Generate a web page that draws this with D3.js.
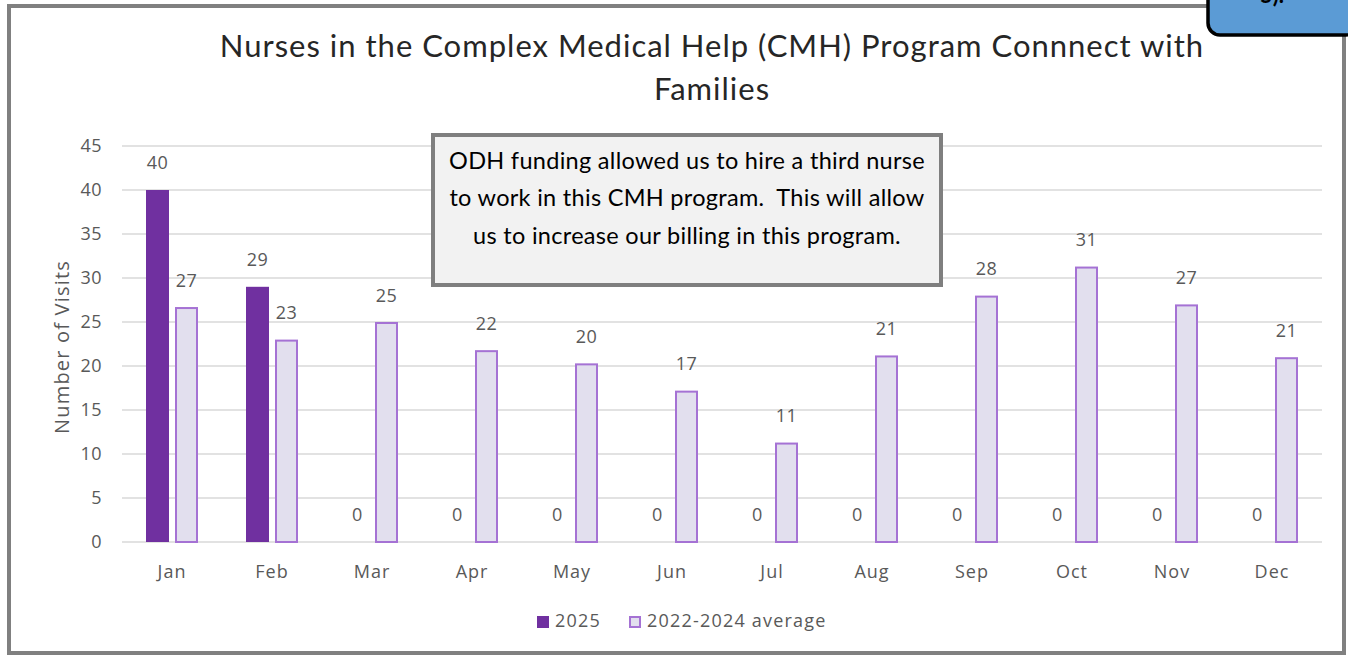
<!DOCTYPE html>
<html>
<head>
<meta charset="utf-8">
<script src="https://cdn.jsdelivr.net/npm/d3@7"></script>
<style>
  body { margin: 0; background: #fff; }
  svg { display: block; }
  text { white-space: pre; }
</style>
</head>
<body>
<svg id="chart" width="1348" height="656"></svg>
<script>
const months = ["Jan", "Feb", "Mar", "Apr", "May", "Jun", "Jul", "Aug", "Sep", "Oct", "Nov", "Dec"]
const visits2025 = [40, 29, 0, 0, 0, 0, 0, 0, 0, 0, 0, 0]
const visitsAvg = [26.7, 23, 25, 21.8, 20.3, 17.2, 11.3, 21.2, 28, 31.3, 27, 21]
const yTicks = [0, 5, 10, 15, 20, 25, 30, 35, 40, 45]
const seriesNames = ["2025", "2022-2024 average"]
const titleLines = ["Nurses in the Complex Medical Help (CMH) Program Connnect with", "Families"]
const noteLines = ["ODH funding allowed us to hire a third nurse", "to work in this CMH program.  This will allow", "us to increase our billing in this program."]

const svg = d3.select("#chart")
const axisFont = "'Open Sans', 'Noto Sans', sans-serif"
const titleFont = "Lato, 'Open Sans', sans-serif"
const grey = "#595959"

// outer frame
svg.append("rect")
    .attr("x", 9).attr("y", 6).attr("width", 1335).attr("height", 647)
    .attr("fill", "#fff").attr("stroke", "#808080").attr("stroke-width", 4)

const plot = {left: 122, right: 1322, top: 146, bottom: 542}

const x = d3.scaleBand().domain(months).range([plot.left, plot.right])
const y = d3.scaleLinear().domain([0, 45]).range([plot.bottom, plot.top])
const barW = 23, gap = 6

// gridlines
svg.append("g").selectAll("line").data(yTicks).join("line")
    .attr("x1", plot.left).attr("x2", plot.right)
    .attr("y1", d => y(d)).attr("y2", d => y(d))
    .attr("stroke", "#d9d9d9").attr("stroke-width", 1.5)

// y axis labels
const yAxis = svg.append("g")
    .attr("transform", `translate(${plot.left - 20},0)`)
    .call(d3.axisLeft(y).tickValues(yTicks).tickSize(0).tickPadding(0))
yAxis.select(".domain").remove()
yAxis.selectAll("text")
    .attr("font-family", axisFont).attr("font-size", 18).attr("letter-spacing", 0.5).attr("fill", grey)

// x axis labels
const xAxis = svg.append("g")
    .attr("transform", `translate(0,${plot.bottom + 22})`)
    .call(d3.axisBottom(x).tickSize(0).tickPadding(0))
xAxis.select(".domain").remove()
xAxis.selectAll("text")
    .attr("dy", "0.75em")
    .attr("font-family", axisFont).attr("font-size", 18).attr("letter-spacing", 1).attr("fill", grey)

const cx = m => x(m) + x.bandwidth() / 2

// 2025 bars
svg.append("g").selectAll("rect").data(months).join("rect")
    .attr("x", m => cx(m) - gap / 2 - barW)
    .attr("y", (m, i) => y(visits2025[i]))
    .attr("width", barW)
    .attr("height", (m, i) => y(0) - y(visits2025[i]))
    .attr("fill", "#7030a0")

// average bars
svg.append("g").selectAll("rect").data(months).join("rect")
    .attr("x", m => cx(m) + gap / 2 + 1)
    .attr("y", (m, i) => y(visitsAvg[i]) + 1)
    .attr("width", barW - 2)
    .attr("height", (m, i) => Math.max(0, y(0) - y(visitsAvg[i]) - 1))
    .attr("fill", "#e2dfee").attr("stroke", "#a572d4").attr("stroke-width", 2)

const fmt = d3.format(".0f")
const labelStyle = sel => sel
    .attr("text-anchor", "middle").attr("dominant-baseline", "middle")
    .attr("font-family", axisFont).attr("font-size", 18).attr("letter-spacing", 0.5).attr("fill", grey)

svg.append("g").selectAll("text").data(months).join("text")
    .attr("x", m => cx(m) - gap / 2 - barW / 2)
    .attr("y", (m, i) => y(visits2025[i]) - 26)
    .text((m, i) => fmt(visits2025[i]))
    .call(labelStyle)

svg.append("g").selectAll("text").data(months).join("text")
    .attr("x", m => cx(m) + gap / 2 + barW / 2)
    .attr("y", (m, i) => y(visitsAvg[i]) - 25)
    .text((m, i) => fmt(visitsAvg[i]))
    .call(labelStyle)

// y axis title
svg.append("text")
    .attr("transform", "translate(64,347) rotate(-90)")
    .attr("text-anchor", "middle").attr("dominant-baseline", "middle")
    .attr("font-family", axisFont).attr("font-size", 20).attr("letter-spacing", 1.2).attr("fill", grey)
    .text("Number of Visits")

// title
svg.append("g").selectAll("text").data(titleLines).join("text")
    .attr("x", 712).attr("y", (d, i) => 57 + i * 43)
    .attr("text-anchor", "middle")
    .attr("font-family", titleFont).attr("font-size", 31).attr("letter-spacing", 1).attr("fill", "#262626")
    .text(d => d)

// annotation box
svg.append("rect")
    .attr("x", 433).attr("y", 135).attr("width", 508).attr("height", 150)
    .attr("fill", "#f2f2f2").attr("stroke", "#7f7f7f").attr("stroke-width", 4)
svg.append("g").selectAll("text").data(noteLines).join("text")
    .attr("x", 687).attr("y", (d, i) => 163 + i * 37.5)
    .attr("text-anchor", "middle").attr("dominant-baseline", "middle")
    .attr("font-family", titleFont).attr("font-size", 23.5).attr("letter-spacing", 0.3).attr("fill", "#000")
    .text(d => d)

// legend
const legend = svg.append("g").attr("transform", "translate(537,622)")
const legendItems = legend.selectAll("g").data(seriesNames).join("g")
    .attr("transform", (d, i) => `translate(${i * 92},0)`)
legendItems.append("rect")
    .attr("x", (d, i) => i === 0 ? 0 : 1).attr("y", (d, i) => i === 0 ? -6 : -5)
    .attr("width", (d, i) => i === 0 ? 12 : 10).attr("height", (d, i) => i === 0 ? 12 : 10)
    .attr("fill", (d, i) => i === 0 ? "#7030a0" : "#e2dfee")
    .attr("stroke", (d, i) => i === 0 ? "none" : "#a572d4").attr("stroke-width", 2)
legendItems.append("text")
    .attr("x", 18).attr("dominant-baseline", "middle")
    .attr("font-family", axisFont).attr("font-size", 18).attr("letter-spacing", 1.2).attr("fill", grey)
    .text(d => d)

// partial callout in the corner
svg.append("rect")
    .attr("x", 1208).attr("y", -20).attr("width", 150).attr("height", 55)
    .attr("rx", 12)
    .attr("fill", "#5b9bd5").attr("stroke", "#000").attr("stroke-width", 3.5)
svg.append("text")
    .attr("x", 1272).attr("y", 3)
    .attr("text-anchor", "middle")
    .attr("font-family", titleFont).attr("font-size", 22).attr("font-weight", "bold").attr("fill", "#000")
    .text("5).")
</script>
</body>
</html>
